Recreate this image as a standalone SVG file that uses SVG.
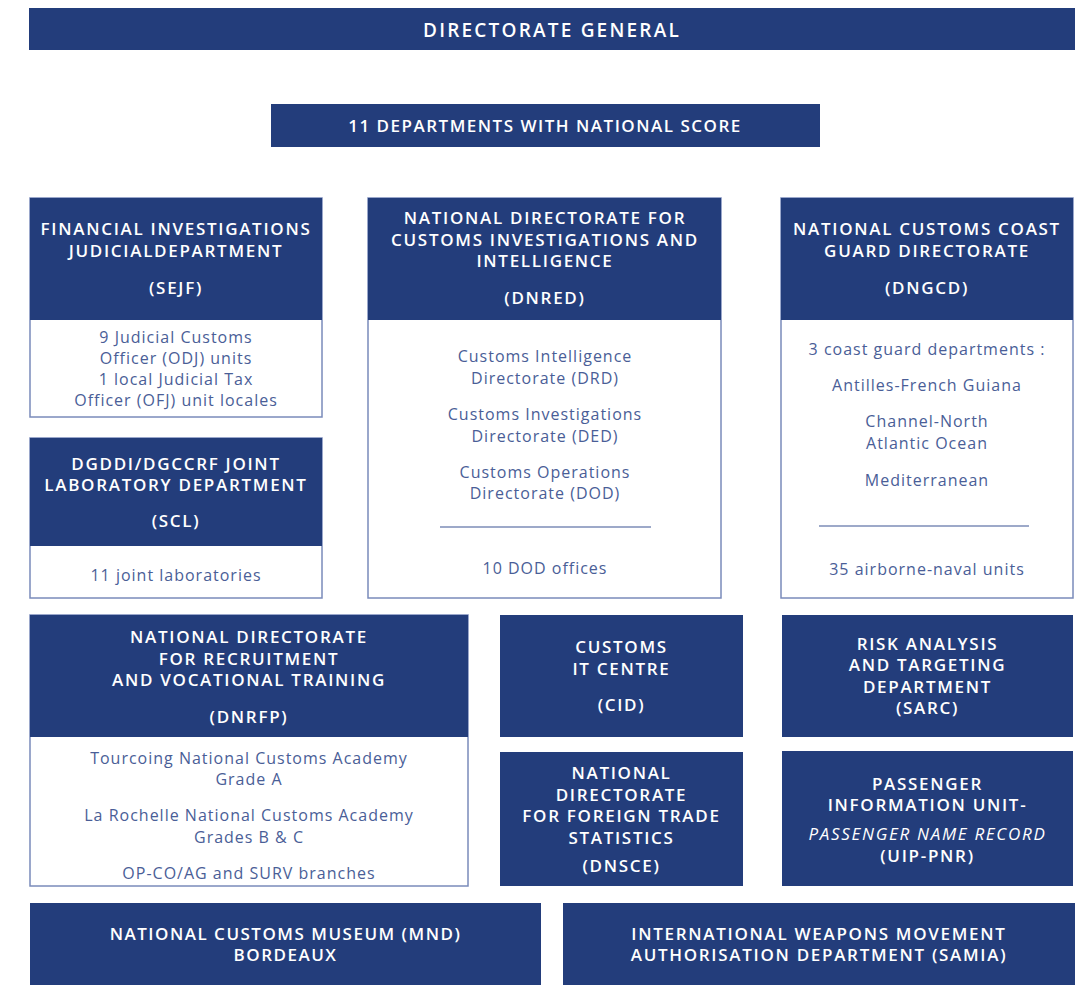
<svg xmlns="http://www.w3.org/2000/svg" width="1082" height="985" viewBox="0 0 1082 985">
  <style>
    .hd { fill: #233d7b; }
    .bd { fill: #ffffff; stroke: #7a8bba; stroke-width: 1.5; }
    .rule { stroke: #3d5494; stroke-width: 1.2; }
    text { font-family: "Open Sans", "Noto Sans", "DejaVu Sans", sans-serif; text-anchor: middle; }
    .h { fill: #ffffff; font-size: 17px; font-weight: 600; letter-spacing: 1.7px; }
    .b { fill: #4a5e97; font-size: 16px; font-weight: 400; letter-spacing: 1px; }
    .i { font-style: italic; font-weight: 400; letter-spacing: 1.7px; }
    .title { font-size: 19px; letter-spacing: 2.2px; }
    .tight { letter-spacing: 1.5px; }
  </style>

  <rect width="1082" height="985" fill="#ffffff"/>

  <g id="directorate-general">
    <rect class="hd" x="29" y="8" width="1046" height="42"/>
    <text class="h title" x="552" y="36.5">DIRECTORATE GENERAL</text>
  </g>

  <g id="national-departments">
    <rect class="hd" x="271" y="104" width="549" height="43"/>
    <text class="h tight" x="545" y="132">11 DEPARTMENTS WITH NATIONAL SCORE</text>
  </g>

  <g id="sejf">
    <rect class="bd" x="30" y="198" width="292" height="219"/>
    <rect class="hd" x="30" y="198" width="292" height="122"/>
    <text class="h" x="176" y="235">FINANCIAL INVESTIGATIONS</text>
    <text class="h" x="176" y="257">JUDICIALDEPARTMENT</text>
    <text class="h" x="176" y="294">(SEJF)</text>
    <text class="b" x="176" y="343">9 Judicial Customs</text>
    <text class="b" x="176" y="364">Officer (ODJ) units</text>
    <text class="b" x="176" y="385">1 local Judicial Tax</text>
    <text class="b" x="176" y="406">Officer (OFJ) unit locales</text>
  </g>

  <g id="dnred">
    <rect class="bd" x="368" y="198" width="353" height="400"/>
    <rect class="hd" x="368" y="198" width="353" height="122"/>
    <text class="h" x="545" y="224">NATIONAL DIRECTORATE FOR</text>
    <text class="h" x="545" y="246">CUSTOMS INVESTIGATIONS AND</text>
    <text class="h" x="545" y="267">INTELLIGENCE</text>
    <text class="h" x="545" y="304">(DNRED)</text>
    <text class="b" x="545" y="362">Customs Intelligence</text>
    <text class="b" x="545" y="384">Directorate (DRD)</text>
    <text class="b" x="545" y="420">Customs Investigations</text>
    <text class="b" x="545" y="442">Directorate (DED)</text>
    <text class="b" x="545" y="478">Customs Operations</text>
    <text class="b" x="545" y="499">Directorate (DOD)</text>
    <line class="rule" x1="440" y1="527" x2="651" y2="527"/>
    <text class="b" x="545" y="574">10 DOD offices</text>
  </g>

  <g id="dngcd">
    <rect class="bd" x="781" y="198" width="292" height="400"/>
    <rect class="hd" x="781" y="198" width="292" height="122"/>
    <text class="h" x="927" y="235">NATIONAL CUSTOMS COAST</text>
    <text class="h" x="927" y="257">GUARD DIRECTORATE</text>
    <text class="h" x="927" y="294">(DNGCD)</text>
    <text class="b" x="927" y="355">3 coast guard departments :</text>
    <text class="b" x="927" y="391">Antilles-French Guiana</text>
    <text class="b" x="927" y="427">Channel-North</text>
    <text class="b" x="927" y="449">Atlantic Ocean</text>
    <text class="b" x="927" y="486">Mediterranean</text>
    <line class="rule" x1="819" y1="526" x2="1029" y2="526"/>
    <text class="b" x="927" y="575">35 airborne-naval units</text>
  </g>

  <g id="scl">
    <rect class="bd" x="30" y="438" width="292" height="160"/>
    <rect class="hd" x="30" y="438" width="292" height="108"/>
    <text class="h" x="176" y="470">DGDDI/DGCCRF JOINT</text>
    <text class="h" x="176" y="491">LABORATORY DEPARTMENT</text>
    <text class="h" x="176" y="527">(SCL)</text>
    <text class="b" x="176" y="581">11 joint laboratories</text>
  </g>

  <g id="dnrfp">
    <rect class="bd" x="30" y="615" width="438" height="271"/>
    <rect class="hd" x="30" y="615" width="438" height="122"/>
    <text class="h" x="249" y="643">NATIONAL DIRECTORATE</text>
    <text class="h" x="249" y="665">FOR RECRUITMENT</text>
    <text class="h" x="249" y="686">AND VOCATIONAL TRAINING</text>
    <text class="h" x="249" y="723">(DNRFP)</text>
    <text class="b" x="249" y="764">Tourcoing National Customs Academy</text>
    <text class="b" x="249" y="785">Grade A</text>
    <text class="b" x="249" y="821">La Rochelle National Customs Academy</text>
    <text class="b" x="249" y="843">Grades B &amp; C</text>
    <text class="b" x="249" y="879">OP-CO/AG and SURV branches</text>
  </g>

  <g id="cid">
    <rect class="hd" x="500" y="615" width="243" height="122"/>
    <text class="h" x="621.5" y="653">CUSTOMS</text>
    <text class="h" x="621.5" y="675">IT CENTRE</text>
    <text class="h" x="621.5" y="711">(CID)</text>
  </g>

  <g id="sarc">
    <rect class="hd" x="782" y="615" width="291" height="122"/>
    <text class="h" x="927.5" y="650">RISK ANALYSIS</text>
    <text class="h" x="927.5" y="671">AND TARGETING</text>
    <text class="h" x="927.5" y="693">DEPARTMENT</text>
    <text class="h" x="927.5" y="714">(SARC)</text>
  </g>

  <g id="dnsce">
    <rect class="hd" x="500" y="752" width="243" height="134"/>
    <text class="h" x="621.5" y="779">NATIONAL</text>
    <text class="h" x="621.5" y="801">DIRECTORATE</text>
    <text class="h" x="621.5" y="822">FOR FOREIGN TRADE</text>
    <text class="h" x="621.5" y="844">STATISTICS</text>
    <text class="h" x="621.5" y="872">(DNSCE)</text>
  </g>

  <g id="uip-pnr">
    <rect class="hd" x="782" y="751" width="291" height="135"/>
    <text class="h" x="927.5" y="790">PASSENGER</text>
    <text class="h" x="927.5" y="811">INFORMATION UNIT-</text>
    <text class="h i" x="927.5" y="840">PASSENGER NAME RECORD</text>
    <text class="h" x="927.5" y="862">(UIP-PNR)</text>
  </g>

  <g id="mnd">
    <rect class="hd" x="30" y="903" width="511" height="82"/>
    <text class="h tight" x="285.5" y="940">NATIONAL CUSTOMS MUSEUM (MND)</text>
    <text class="h tight" x="285.5" y="961">BORDEAUX</text>
  </g>

  <g id="samia">
    <rect class="hd" x="563" y="903" width="512" height="82"/>
    <text class="h" x="819" y="940">INTERNATIONAL WEAPONS MOVEMENT</text>
    <text class="h" x="819" y="961">AUTHORISATION DEPARTMENT (SAMIA)</text>
  </g>
</svg>
